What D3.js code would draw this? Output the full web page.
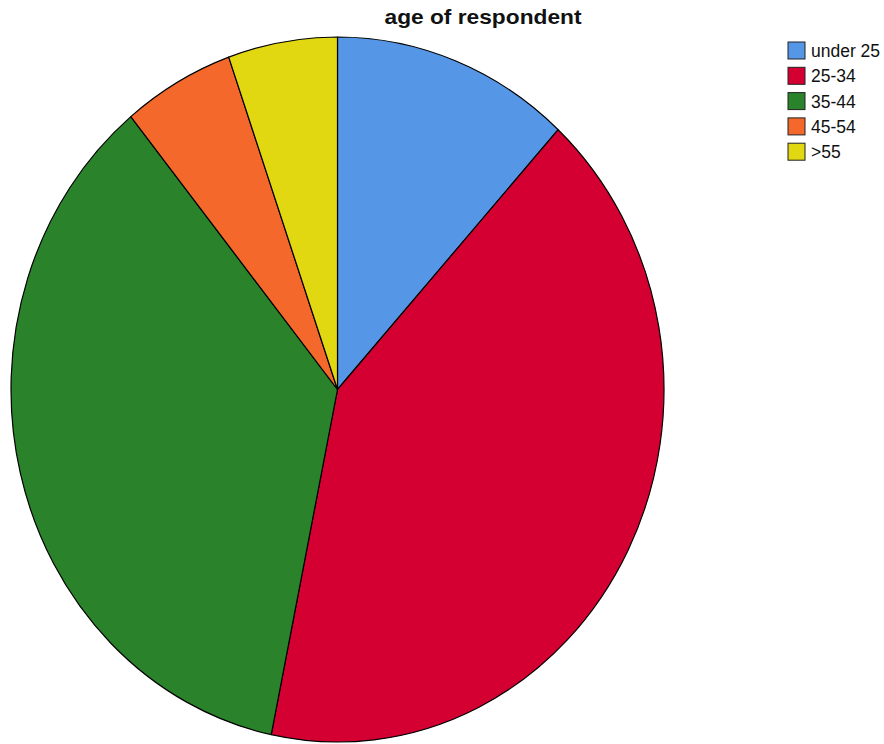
<!DOCTYPE html>
<html>
<head>
<meta charset="utf-8">
<script src="https://cdn.jsdelivr.net/npm/d3@7"></script>
<style>
  body { margin: 0; background: #fff; }
  svg { display: block; }
</style>
</head>
<body>
<svg id="chart" width="884" height="744"></svg>
<script>
const title = "age of respondent";
const categories = ["under 25", "25-34", "35-44", "45-54", ">55"];
const values = [11.8, 41.4, 35.8, 5.5, 5.4];
const colors = ["#5596E6", "#D50032", "#2A832A", "#F4692B", "#E1D812"];

const svg = d3.select("#chart");
const cx = 337.5, cy = 389.5, rx = 326.5, ry = 352.5;

const pie = d3.pie().sort(null).value(d => d.v);
const data = pie(categories.map((c, i) => ({c, v: values[i], col: colors[i]})));
const arc = d3.arc().innerRadius(0).outerRadius(rx);

const g = svg.append("g")
  .attr("transform", `translate(${cx},${cy}) scale(1,${ry / rx})`);
g.selectAll("path").data(data).join("path")
  .attr("d", arc)
  .attr("fill", d => d.data.col)
  .attr("stroke", "#000")
  .attr("stroke-width", 1.2)
  .attr("vector-effect", "non-scaling-stroke")
  .attr("stroke-linejoin", "round");

svg.append("text")
  .attr("x", 483).attr("y", 24)
  .attr("text-anchor", "middle")
  .attr("font-family", "Liberation Sans, Arial, sans-serif")
  .attr("font-weight", "bold")
  .attr("font-size", 21)
  .attr("textLength", 197)
  .attr("lengthAdjust", "spacingAndGlyphs")
  .attr("fill", "#111")
  .text(title);

const legend = svg.append("g").attr("transform", "translate(788,42)");
const items = legend.selectAll("g").data(categories).join("g")
  .attr("transform", (d, i) => `translate(0,${i * 25.3})`);
items.append("rect")
  .attr("width", 17).attr("height", 17)
  .attr("fill", (d, i) => colors[i])
  .attr("stroke", "#222").attr("stroke-width", 1);
items.append("text")
  .attr("x", 23).attr("y", 15)
  .attr("font-family", "Liberation Sans, Arial, sans-serif")
  .attr("font-size", 17.5)
  .attr("fill", "#111")
  .text(d => d);
</script>
</body>
</html>
